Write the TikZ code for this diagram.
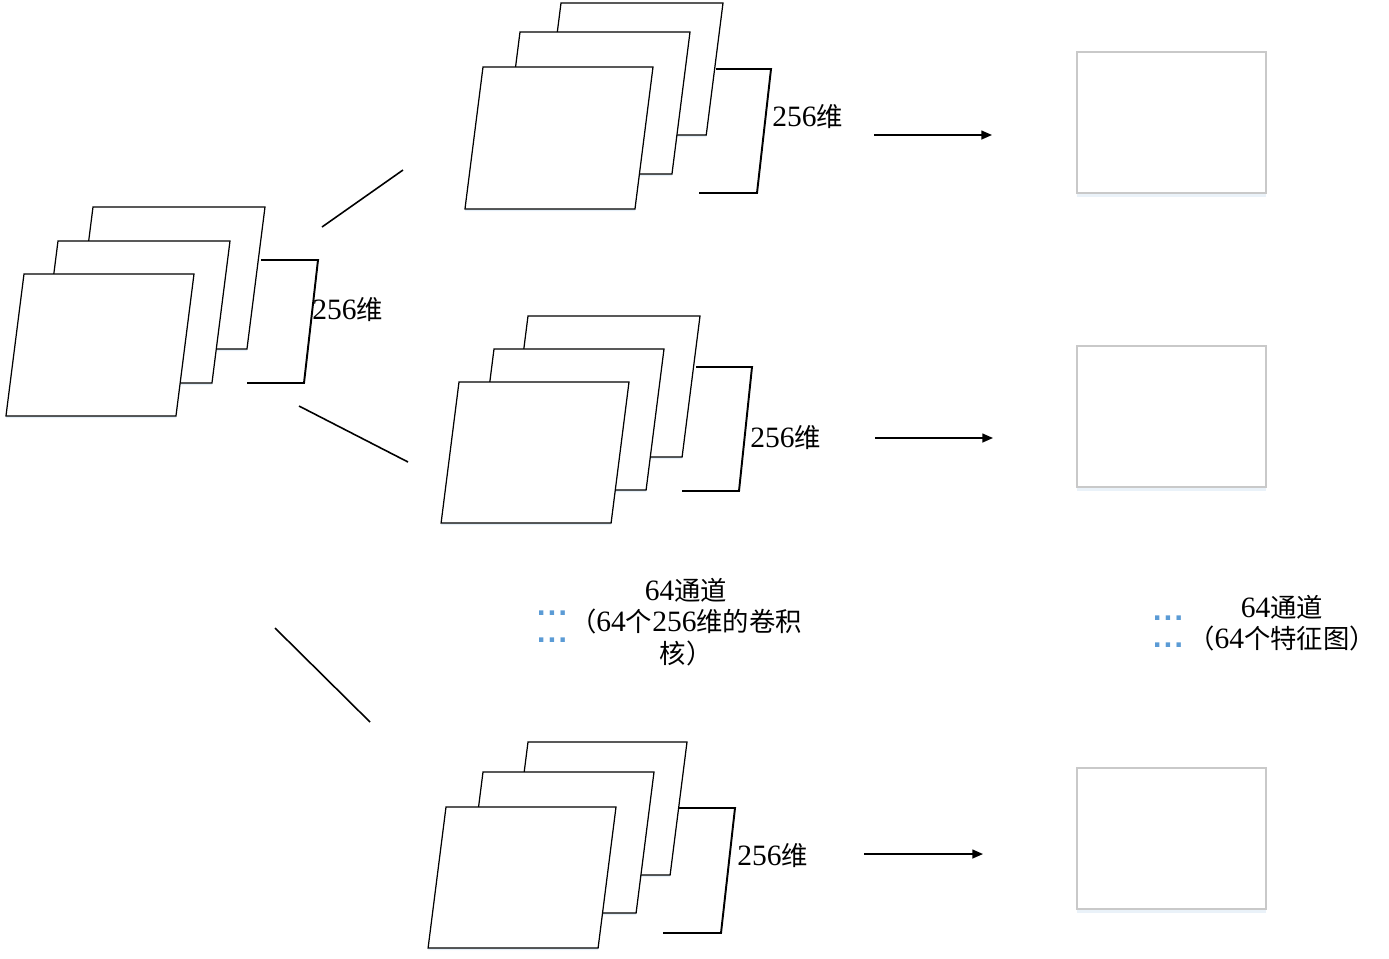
\documentclass[tikz,border=0pt]{standalone}
\usepackage{fontspec}
\setmainfont{Liberation Serif}[Scale=1.12]
\newfontfamily\cjk{Noto Sans CJK SC}
\newfontfamily\dotfont{DejaVu Sans}
\usepackage{tikz}
\usetikzlibrary{arrows.meta,shadows}
\definecolor{dotblue}{HTML}{5B9BD5}
\definecolor{mapline}{HTML}{C9C9C9}
\tikzset{
  sheet/.style={draw=black,fill=white,line width=0.7pt,
    drop shadow={shadow xshift=0pt,shadow yshift=-1.2pt,fill=dotblue!35,opacity=0.45}},
  brk/.style={draw=black,line width=1.1pt},
  link/.style={draw=black,line width=0.9pt},
  arr/.style={-{Triangle[length=6pt,width=5pt]},line width=0.9pt},
  fmap/.style={rectangle,draw=mapline,fill=white,line width=1pt,
    minimum width=3.78cm,minimum height=2.82cm,inner sep=0pt,
    drop shadow={shadow xshift=0pt,shadow yshift=-2pt,fill=dotblue!25,opacity=0.5}},
  dimlbl/.style={font=\fontsize{15}{18}\selectfont,inner sep=0pt,anchor=west},
  note/.style={font=\fontsize{15}{18}\selectfont,align=center,inner sep=0pt},
  dots/.style={font=\dotfont\bfseries\fontsize{14}{15.3}\selectfont,text=dotblue,
    align=center,inner sep=0pt},
}
% one sheet of a stack: top-left x, top-left y, width, height
\newcommand{\sheet}[4]{%
  \draw[sheet] (#1,#2) -- ++(#3,0) -- ++(-0.127*#4,#4) -- ++(-#3,0) -- cycle;}
\newcommand{\dotrow}{.\kern0.8pt.\kern0.8pt.}

\begin{document}
\begin{tikzpicture}[x=0.02cm,y=-0.02cm]
  \useasboundingbox (0,0) rectangle (1389,958);

  % input stack
  \sheet{93}{207}{172}{142}
  \sheet{58}{241}{172}{142}
  \sheet{24}{274}{170}{142}
  \draw[brk] (261,260) -- (318,260) -- (304,383) -- (247,383);
  \node[dimlbl] (dimIn) at (312,310) {256{\cjk 维}};

  % kernel stacks
  \sheet{561}{3}{162}{132}
  \sheet{520}{32}{170}{142}
  \sheet{483}{67}{170}{142}
  \draw[brk] (716,69) -- (771,69) -- (757,193) -- (699,193);
  \node[dimlbl] (dimA) at (772,117) {256{\cjk 维}};

  \sheet{528}{316}{172}{141}
  \sheet{494}{349}{170}{141}
  \sheet{459}{382}{170}{141}
  \draw[brk] (696,367) -- (752,367) -- (739,491) -- (682,491);
  \node[dimlbl] (dimB) at (750,438) {256{\cjk 维}};

  \sheet{528}{742}{159}{133}
  \sheet{483}{772}{171}{141}
  \sheet{446}{807}{170}{141}
  \draw[brk] (679,808) -- (735,808) -- (721,933) -- (663,933);
  \node[dimlbl] (dimC) at (737,856) {256{\cjk 维}};

  % feature maps
  \node[fmap] (mapA) at (1171.5,122.5) {};
  \node[fmap] (mapB) at (1171.5,416.5) {};
  \node[fmap] (mapC) at (1171.5,838.5) {};

  % connectors
  \coordinate (inA) at (322,227);  \coordinate (toA) at (403,170);
  \coordinate (inB) at (299,406);  \coordinate (toB) at (408,462);
  \coordinate (inC) at (275,628);  \coordinate (toC) at (370,722);
  \draw[link] (inA) -- (toA);
  \draw[link] (inB) -- (toB);
  \draw[link] (inC) -- (toC);

  \coordinate (outA) at (874,135); \coordinate (endA) at (992,135);
  \coordinate (outB) at (875,438); \coordinate (endB) at (993,438);
  \coordinate (outC) at (864,854); \coordinate (endC) at (983,854);
  \draw[arr] (outA) -- (endA);
  \draw[arr] (outB) -- (endB);
  \draw[arr] (outC) -- (endC);

  % notes
  \node[dots] (dotK) at (552,626.5) {\dotrow\\\dotrow};
  \node[note] (kernNote) at (686,622)
    {64{\cjk 通道}\\{\cjk （}64{\cjk 个}256{\cjk 维的卷积}\\{\cjk 核）}};
  \node[dots] (dotM) at (1168,632) {\dotrow\\\dotrow};
  \node[note] (mapNote) at (1282,623)
    {64{\cjk 通道}\\{\cjk （}64{\cjk 个特征图）}};
\end{tikzpicture}
\end{document}
